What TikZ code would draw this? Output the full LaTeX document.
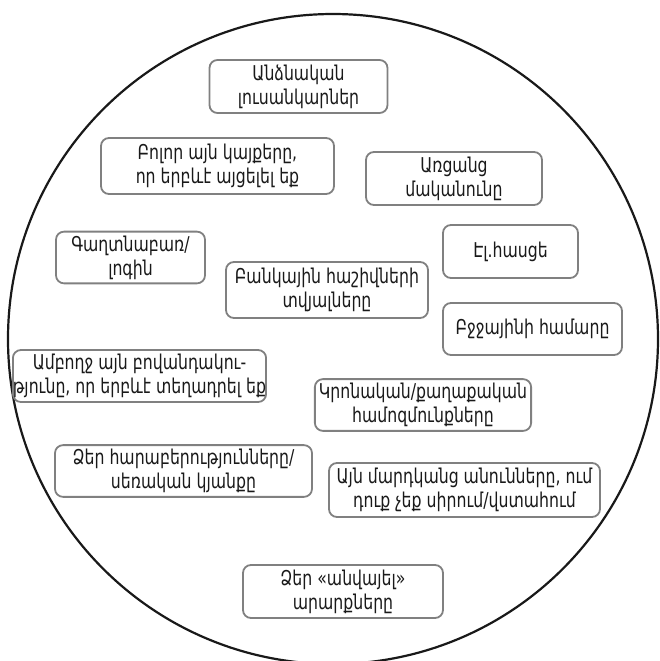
\documentclass[tikz,border=0pt]{standalone}
\usepackage{fontspec}
\setmainfont{DejaVu Sans}[FakeStretch=0.77]
\usetikzlibrary{positioning}

\begin{document}
\begin{tikzpicture}[
    x=0.5pt,
    y=-0.5pt,
    font=\fontsize{10.2}{12}\selectfont,
    item/.style={
        rectangle,
        rounded corners=4pt,
        draw=black!50,
        line width=0.9pt,
        align=center,
        inner sep=2pt,
        text=black!90
    },
    ring/.style={draw=black!90, line width=1.1pt}
]

\useasboundingbox (0,0) rectangle (660,661);

% Outer circle
\draw[ring] (333,339) circle (162.5pt);

% Items inside the circle
\node[item, minimum width=89pt, minimum height=26.5pt] (photos) at (298.5,86.5) {Անձնական\\լուսանկարներ};
\node[item, minimum width=116.5pt, minimum height=28pt] (sites) at (217.5,166) {Բոլոր այն կայքերը,\\որ երբևէ այցելել եք};
\node[item, minimum width=88pt, minimum height=26.5pt] (nickname) at (454,178.5) {Առցանց\\մականունը};
\node[item, minimum width=74.5pt, minimum height=25.5pt] (password) at (130.5,257.5) {Գաղտնաբառ/\\լոգին};
\node[item, minimum width=67.5pt, minimum height=26.5pt] (email) at (510.5,251.5) {Էլ.հասցե};
\node[item, minimum width=101pt, minimum height=28pt] (bank) at (327,290) {Բանկային հաշիվների\\տվյալները};
\node[item, minimum width=89.5pt, minimum height=26pt] (phone) at (532.5,329) {Բջջայինի համարը};
\node[item, minimum width=118.5pt, minimum height=26pt, inner xsep=0pt] (content) at (139.5,376) {Ամբողջ այն բովանդակու-\\թյունը, որ երբևէ տեղադրել եք};
\node[item, minimum width=105pt, minimum height=25pt] (beliefs) at (423,405) {Կրոնական/քաղաքական\\համոզմունքները};
\node[item, minimum width=128.5pt, minimum height=25pt] (relations) at (183.5,471) {Ձեր հարաբերությունները/\\սեռական կյանքը};
\node[item, minimum width=135.5pt, minimum height=27pt] (names) at (464.5,490) {Այն մարդկանց անունները, ում\\դուք չեք սիրում/վստահում};
\node[item, minimum width=100pt, minimum height=26.5pt] (deeds) at (343,591.5) {Ձեր «անվայել»\\արարքները};

\end{tikzpicture}
\end{document}
